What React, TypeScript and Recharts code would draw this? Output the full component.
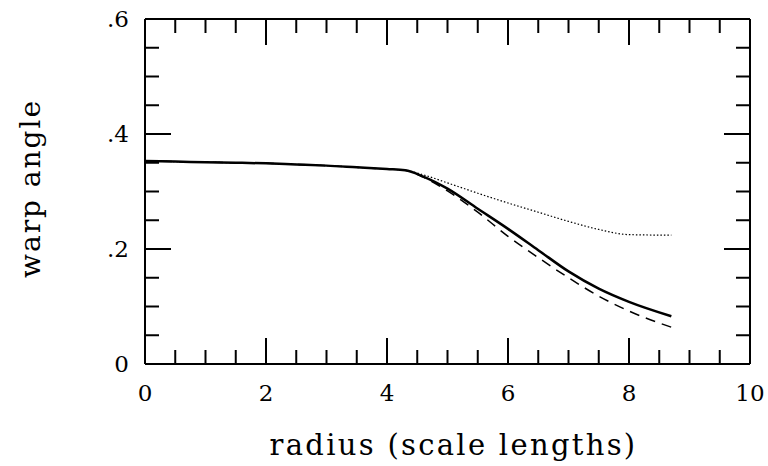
import { LineChart, Line, XAxis, YAxis, Label } from 'recharts'

const radius = [0, 0.5, 1, 1.5, 2, 2.5, 3, 3.5, 4, 4.3, 4.6, 5, 5.5, 6, 6.5, 7, 7.5, 8, 8.7]
const solidWarp = [0.353, 0.352, 0.351, 0.35, 0.349, 0.347, 0.345, 0.342, 0.339, 0.337, 0.326, 0.305, 0.27, 0.235, 0.198, 0.161, 0.131, 0.108, 0.083]
const dashedWarp = [0.353, 0.352, 0.351, 0.35, 0.349, 0.347, 0.345, 0.342, 0.339, 0.337, 0.325, 0.301, 0.264, 0.222, 0.185, 0.15, 0.118, 0.092, 0.064]
const dottedWarp = [0.353, 0.352, 0.351, 0.35, 0.349, 0.347, 0.345, 0.342, 0.339, 0.337, 0.329, 0.315, 0.297, 0.28, 0.264, 0.248, 0.234, 0.225, 0.224]

const xLabelTicks = [0, 2, 4, 6, 8, 10]
const xMajorTicks = [2, 4, 6, 8]
const xMinorTicks = [0.5, 1, 1.5, 2.5, 3, 3.5, 4.5, 5, 5.5, 6.5, 7, 7.5, 8.5, 9, 9.5]
const yLabelTicks = [0, 0.2, 0.4, 0.6]
const yMajorTicks = [0.2, 0.4]
const yMinorTicks = [0.05, 0.1, 0.15, 0.25, 0.3, 0.35, 0.45, 0.5, 0.55]

const data = radius.map((r, i) => ({
  r,
  solid: solidWarp[i],
  dashed: dashedWarp[i],
  dotted: dottedWarp[i],
}))

const font = 'DejaVu Serif'
const frame = { stroke: '#000', strokeWidth: 2 }
const xDomain: [number, number] = [0, 10]
const yDomain: [number, number] = [0, 0.6]

const fmtY = (v: number) => (v === 0 ? '0' : String(v).replace('0.', '.'))

const XTick = (props: any) => {
  const { x, y, payload } = props
  return (
    <text x={x} y={y + 16} textAnchor="middle" style={{ fontFamily: font, fontSize: 23, fill: '#000' }}>
      {payload.value}
    </text>
  )
}

const YTick = (props: any) => {
  const { x, y, payload } = props
  return (
    <text x={x} y={y + 8} textAnchor="end" style={{ fontFamily: font, fontSize: 23, fill: '#000' }}>
      {fmtY(payload.value)}
    </text>
  )
}

const NoTick = () => <g />

export default function App() {
  return (
    <div style={{ position: 'absolute', left: 0, top: 0, background: '#fff' }}>
      <LineChart width={768} height={466} data={data} margin={{ top: 19, right: 18, bottom: 11, left: 0 }}>
        {/* label axes */}
        <XAxis xAxisId="x" dataKey="r" type="number" domain={xDomain} ticks={xLabelTicks}
          tickLine={false} axisLine={false} tickSize={0} tickMargin={21} height={91}
          tick={<XTick />} interval={0} allowDataOverflow>
          <Label value="radius (scale lengths)" position="insideBottom" offset={0} dx={6}
            style={{ fontFamily: font, fontSize: 29, fill: '#000', letterSpacing: 2.3 }} />
        </XAxis>
        <YAxis yAxisId="y" type="number" domain={yDomain} ticks={yLabelTicks}
          tickLine={false} axisLine={false} tickSize={0} tickMargin={16} width={145}
          tick={<YTick />} interval={0} allowDataOverflow
          label={{
            content: (props: any) => {
              const vb = props.viewBox || {}
              const cx = 30
              const cy = vb.y + vb.height / 2 - 3
              return (
                <text x={cx} y={cy} transform={`rotate(-90, ${cx}, ${cy})`} textAnchor="middle"
                  dominantBaseline="central" style={{ fontFamily: font, fontSize: 28, fill: '#000', letterSpacing: 2 }}>
                  warp angle
                </text>
              )
            },
          }} />

        {/* inward tick marks and frame */}
        <XAxis xAxisId="bMaj" dataKey="r" type="number" domain={xDomain} allowDataOverflow ticks={xMajorTicks} mirror height={1}
          tick={<NoTick />} tickSize={26} tickLine={frame} axisLine={frame} interval={0} />
        <XAxis xAxisId="bMin" dataKey="r" type="number" domain={xDomain} allowDataOverflow ticks={xMinorTicks} mirror height={1}
          tick={<NoTick />} tickSize={13} tickLine={frame} axisLine={false} interval={0} />
        <XAxis xAxisId="tMaj" dataKey="r" orientation="top" type="number" domain={xDomain} allowDataOverflow ticks={xMajorTicks} mirror height={1}
          tick={<NoTick />} tickSize={26} tickLine={frame} axisLine={frame} interval={0} />
        <XAxis xAxisId="tMin" dataKey="r" orientation="top" type="number" domain={xDomain} allowDataOverflow ticks={xMinorTicks} mirror height={1}
          tick={<NoTick />} tickSize={13} tickLine={frame} axisLine={false} interval={0} />
        <YAxis yAxisId="lMaj" dataKey="solid" type="number" domain={yDomain} allowDataOverflow ticks={yMajorTicks} mirror width={1}
          tick={<NoTick />} tickSize={26} tickLine={frame} axisLine={frame} interval={0} />
        <YAxis yAxisId="lMin" dataKey="solid" type="number" domain={yDomain} allowDataOverflow ticks={yMinorTicks} mirror width={1}
          tick={<NoTick />} tickSize={13} tickLine={frame} axisLine={false} interval={0} />
        <YAxis yAxisId="rMaj" dataKey="solid" orientation="right" type="number" domain={yDomain} allowDataOverflow ticks={yMajorTicks} mirror width={1}
          tick={<NoTick />} tickSize={26} tickLine={frame} axisLine={frame} interval={0} />
        <YAxis yAxisId="rMin" dataKey="solid" orientation="right" type="number" domain={yDomain} allowDataOverflow ticks={yMinorTicks} mirror width={1}
          tick={<NoTick />} tickSize={13} tickLine={frame} axisLine={false} interval={0} />

        <Line xAxisId="x" yAxisId="y" type="monotone" dataKey="dotted" stroke="#000" strokeWidth={1.2}
          strokeDasharray="1.5 2" dot={false} isAnimationActive={false} />
        <Line xAxisId="x" yAxisId="y" type="monotone" dataKey="dashed" stroke="#000" strokeWidth={1.5}
          strokeDasharray="10 7" dot={false} isAnimationActive={false} />
        <Line xAxisId="x" yAxisId="y" type="monotone" dataKey="solid" stroke="#000" strokeWidth={2.5}
          dot={false} isAnimationActive={false} />
      </LineChart>
    </div>
  )
}
